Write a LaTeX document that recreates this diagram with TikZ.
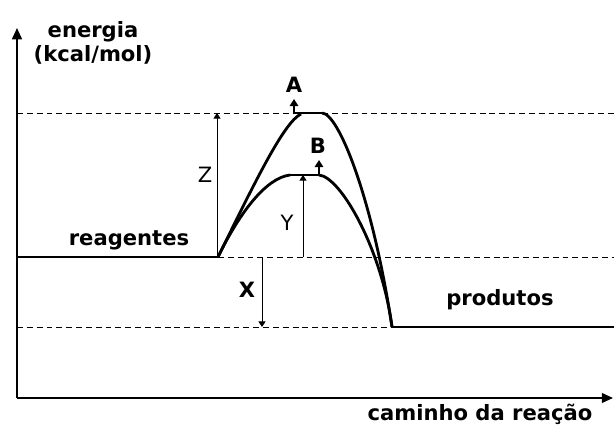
\documentclass[tikz,border=0pt]{standalone}
\usepackage{fontspec}
\setmainfont{DejaVu Sans}
\usetikzlibrary{arrows.meta}

\begin{document}
\begin{tikzpicture}[x=0.025cm, y=-0.025cm,
    lbl/.style={font=\fontsize{15}{17}\selectfont\bfseries, inner sep=0pt},
    sym/.style={font=\fontsize{15}{17}\selectfont, inner sep=0pt},
    axis/.style={-{Triangle[length=8pt, width=7pt]}, line width=1.3pt},
    guide/.style={line width=0.7pt, dash pattern=on 4.2pt off 2.8pt},
    level/.style={line width=2pt},
    curve/.style={line width=2pt, line join=round},
    meas/.style={-{Triangle[length=4pt, width=5pt]}, line width=0.7pt},
    peak/.style={-{Triangle[length=5pt, width=6pt]}, line width=1.6pt}
]
    \useasboundingbox (0,0) rectangle (614,428);

    % eixos
    \coordinate (orig) at (17,398);
    \coordinate (ytip) at (17,28);
    \coordinate (xtip) at (613,398);
    \draw[axis] (orig) -- (ytip);
    \draw[axis] (orig) -- (xtip);

    % niveis
    \coordinate (r0) at (17,257);
    \coordinate (r1) at (218,257);
    \coordinate (p0) at (392,327);
    \coordinate (p1) at (614,327);
    \coordinate (ta) at (17,113);
    \coordinate (tb) at (614,113);
    \coordinate (re) at (614,257);
    \coordinate (pe) at (17,327);

    \draw[guide] (ta) -- (tb);
    \draw[guide] (r1) -- (re);
    \draw[guide] (pe) -- (p0);
    \draw[level] (r0) -- (r1);
    \draw[level] (p0) -- (p1);

    % curvas A e B
    \coordinate (a0) at (294,113);
    \coordinate (a1) at (322,113);
    \coordinate (b0) at (290,175);
    \coordinate (b1) at (319,175);
    \draw[curve] (r1) .. controls (255,182) and (284,122) .. (301,114);
    \draw[curve] (a1) .. controls (338,113) and (372,195) .. (p0);
    \draw[curve] (r1) .. controls (240,212) and (266,178) .. (b0);
    \draw[curve] (b1) .. controls (341,177) and (382,250) .. (p0);

    % setas dos picos
    \coordinate (aup) at (294,99);
    \coordinate (bup) at (319,160);
    \draw[peak] (a1) -- (a0) -- (aup);
    \draw[peak] (b0) -- (b1) -- (bup);

    % setas de medida
    \coordinate (zb) at (217,257);
    \coordinate (zt) at (217,113);
    \coordinate (yb) at (303,257);
    \coordinate (yt) at (303,175);
    \coordinate (xb) at (262,257);
    \coordinate (xt) at (262,327);
    \draw[meas] (zb) -- (zt);
    \draw[meas] (yb) -- (yt);
    \draw[meas] (xb) -- (xt);

    % textos
    \node[lbl, align=center] (eixoy) at (93,43) {energia\\(kcal/mol)};
    \node[lbl] (eixox) at (480,414) {caminho da reação};
    \node[lbl] (reag) at (129,240) {reagentes};
    \node[lbl] (prod) at (500,300) {produtos};
    \node[lbl] (la) at (294,85) {A};
    \node[lbl] (lb) at (318,146) {B};
    \node[lbl] (lx) at (247,290) {X};
    \node[sym] (ly) at (287,223) {Y};
    \node[sym] (lz) at (205,175) {Z};
\end{tikzpicture}
\end{document}
